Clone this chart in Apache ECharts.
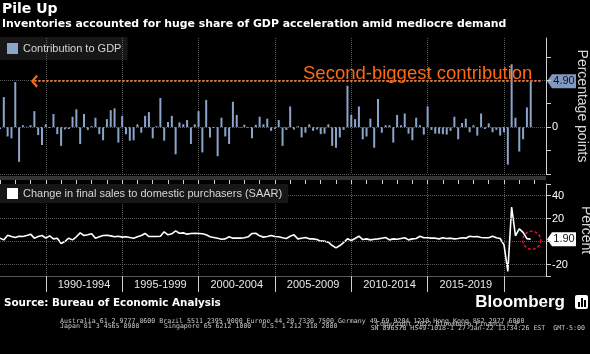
<!DOCTYPE html>
<html>
<head>
<meta charset="utf-8">
<script src="https://cdn.jsdelivr.net/npm/echarts@6/dist/echarts.min.js"></script>
<style>
  html, body { margin: 0; padding: 0; background: #000; }
  #chart { width: 590px; height: 354px; }
</style>
</head>
<body>
<div id="chart"></div>
<script>
// quarterly categories, 1987Q1 onwards (140 observations + a little room on the right)
const firstYear = 1987;
const slotCount = 144;
const quarters = [];
for (let i = 0; i < slotCount; i++) {
  quarters.push((firstYear + Math.floor(i / 4)) + 'Q' + (i % 4 + 1));
}
const periodLabels = ['1990-1994', '1995-1999', '2000-2004', '2005-2009', '2010-2014', '2015-2019'];

// inventories' contribution to GDP growth, percentage points
const inventoryContribution = [
  -0.2, 3.2, -1.0, -1.2, 4.8, -3.7, 0.2, 0.05, 0.2, 1.7,
  -0.85, -1.9, 0.3, -0.1, 1.4, -0.75, -2.0, -0.25, -0.2, 1.1,
  1.9, -1.8, 1.4, -0.3, 0.1, 1.0, -0.75, -1.4, 0.85, 1.8,
  2.0, -1.65, 1.2, -0.75, -1.45, -1.4, 0.3, -0.6, 1.2, 1.6,
  -1.2, 0.1, 3.1, -1.45, 0.55, 1.2, -2.9, 0.5, 0.3, 0.75,
  -1.8, 0.3, 1.7, -2.7, 2.9, -1.1, -0.1, -3.1, 1.0, -1.0,
  -1.8, 2.7, 1.3, -0.1, 0.25, -0.1, -1.2, 0.25, 1.1, 0.3,
  0.9, -0.4, -0.2, 0.75, -2.0, -0.3, 2.2, -0.25, 0.1, -1.1,
  -0.6, 0.3, -0.4, -0.25, -0.75, -0.7, 0.3, -2.0, -2.2, -1.1,
  -0.3, 4.4, 1.3, 0.85, 2.2, -1.3, -1.0, 0.9, -2.2, 3.0,
  -0.6, 0.2, 0.2, -1.65, 1.3, 0.2, 1.45, -0.7, -1.4, 1.0,
  0.2, -0.8, 2.2, -0.3, -0.7, -0.7, -0.75, -0.8, -0.4, 1.1,
  -1.3, 0.45, 0.9, -0.55, 0.2, -0.9, 1.45, -0.2, 0.4, -0.55,
  -0.3, -0.9, -0.55, -4.0, 6.7, 1.0, -2.6, -1.3, 2.1, 4.9
];

// change in final sales to domestic purchasers, SAAR, percent
const finalSales = [
  2.9, 1.4, 5.5, 4.3, 3.5, 4.6, 4.3, 5.2, 6.4, 2.9,
  4.3, 5.2, 2.9, 4.9, 2.3, 2.9, -1.7, 0, 2.9, 1.4,
  4.1, 7.5, 5.2, 5.8, 6.7, 2.9, 4.1, 5.2, 5.5, 4.9,
  4.1, 4.6, 3.8, 4.1, 3.5, 2.9, 4.1, 5.2, 7.0, 4.3,
  4.3, 4.3, 4.6, 8.4, 5.8, 6.7, 9.3, 7.2, 7.5, 6.4,
  7.0, 7.2, 7.0, 6.7, 5.8, 4.1, 3.5, 2.9, 2.0, 2.3,
  4.1, 2.9, 2.9, 2.9, 3.2, 4.1, 7.0, 7.2, 4.9, 3.8,
  4.3, 5.2, 4.3, 4.1, 3.2, 2.6, 4.6, 5.8, 2.3, 2.9,
  3.5, 2.3, 2.3, 1.7, 0.3, 0.3, -0.6, -3.5, -5.5, -3.5,
  -0.9, 2.3, 0.9, 2.6, 4.6, 1.7, 2.3, 1.4, 2.0, 2.3,
  2.9, 3.5, 1.4, 2.3, 2.0, 2.6, 3.2, 1.4, 2.3, 2.6,
  4.6, 3.2, 3.2, 2.9, 2.9, 2.3, 3.2, 2.6, 2.9, 2.3,
  2.6, 3.2, 2.9, 4.6, 4.1, 4.3, 3.5, 3.2, 3.2, 4.6,
  3.2, 2.6, -3.0, -26, 30, 5, 11, 8, 2.5, 1.9
];

const lastIdx = inventoryContribution.length - 1;
const dotted = { type: 'dotted', color: '#5c5c5c', width: 1 };
const font = 'Liberation Sans, Arial, sans-serif';
const heavy = 'DejaVu Sans, Verdana, sans-serif';
const square = 'path://M0,0H10V10H0Z';

// 5-year boundaries (1990Q1, 1995Q1, ...) and label positions in between
const isBoundary = (i) => i >= 12 && (i - 12) % 20 === 0;
const isLabelSlot = (i) => i >= 22 && i <= 122 && (i - 22) % 20 === 0;

const chart = echarts.init(document.getElementById('chart'));

const legendBase = {
  left: 0,
  backgroundColor: '#171717',
  itemWidth: 11, itemHeight: 11,
  textStyle: { color: '#d6d6d6', fontSize: 11 }
};

const option = {
  backgroundColor: '#000',
  animation: false,
  textStyle: { fontFamily: font },
  title: {
    left: 2, top: 2, padding: 0, itemGap: 3,
    text: 'Pile Up',
    textStyle: { color: '#fff', fontSize: 14, fontWeight: 'bold', fontFamily: heavy },
    subtext: 'Inventories accounted for huge share of GDP acceleration amid mediocre demand',
    subtextStyle: { color: '#fff', fontSize: 10.9, fontWeight: 'bold', fontFamily: heavy }
  },
  legend: [
    Object.assign({}, legendBase, {
      top: 37, padding: [6, 6, 6, 7], z: -1,
      data: [{
        name: 'Contribution to GDP', icon: square,
        itemStyle: { color: '#8ba4c9', borderWidth: 0 }
      }]
    }),
    Object.assign({}, legendBase, {
      top: 184, padding: [4, 6, 4, 7], z: 20,
      data: [{
        name: 'Change in final sales to domestic purchasers (SAAR)', icon: square,
        itemStyle: { color: '#ffffff', borderWidth: 0 }
      }]
    })
  ],
  grid: [
    { left: 0, right: 44, top: 38, height: 136, outerBoundsMode: 'none' },
    { left: 0, right: 44, top: 184, height: 92, outerBoundsMode: 'none' }
  ],
  xAxis: [
    {
      gridIndex: 0, type: 'category', data: quarters, boundaryGap: false,
      axisLine: { show: false, onZero: false }, axisTick: { show: false }, axisLabel: { show: false },
      splitLine: { show: true, interval: (i) => isBoundary(i), lineStyle: dotted }
    },
    {
      gridIndex: 1, type: 'category', data: quarters, boundaryGap: false,
      axisLine: { show: true, onZero: false, lineStyle: { color: '#555', width: 1 } },
      axisTick: { show: true, interval: (i) => isBoundary(i), length: 16, lineStyle: { color: '#cfcfcf' } },
      axisLabel: {
        show: true, interval: (i) => isLabelSlot(i), color: '#e8e8e8', fontSize: 11, margin: 3,
        formatter: (v, i) => periodLabels[(i - 22) / 20] || ''
      },
      splitLine: { show: true, interval: (i) => isBoundary(i), lineStyle: dotted }
    },
    {
      gridIndex: 1, type: 'category', data: quarters, boundaryGap: false,
      axisLine: { show: false, onZero: false },
      axisTick: { show: true, interval: (i) => i % 4 === 0, length: 4, lineStyle: { color: '#cfcfcf' } },
      axisLabel: { show: false }, splitLine: { show: false }
    }
  ],
  yAxis: [
    {
      gridIndex: 0, type: 'value', position: 'right', min: -5, max: 9.5,
      axisLine: { show: true, lineStyle: { color: '#d0d0d0' } },
      axisTick: { show: true, length: 5, customValues: [-5, -2.5, 0, 2.5, 5, 7.5], lineStyle: { color: '#d0d0d0' } },
      axisLabel: { show: true, customValues: [0], color: '#fff', fontSize: 11, margin: 6 },
      splitLine: { show: false },
      name: 'Percentage points', nameLocation: 'middle', nameRotate: -90, nameGap: 29,
      nameTextStyle: { color: '#d8d8d8', fontSize: 14 }
    },
    {
      gridIndex: 1, type: 'value', position: 'right', min: -30, max: 50,
      axisLine: { show: true, lineStyle: { color: '#d0d0d0' } },
      axisTick: { show: true, length: 5, customValues: [-30, -20, 0, 20, 40, 50], lineStyle: { color: '#d0d0d0' } },
      axisLabel: { show: true, customValues: [-20, 20, 40], color: '#fff', fontSize: 11, margin: 6 },
      splitLine: { show: false },
      name: 'Percent', nameLocation: 'middle', nameRotate: -90, nameGap: 29,
      nameTextStyle: { color: '#d8d8d8', fontSize: 14 }
    }
  ],
  series: [
    {
      name: 'Contribution to GDP',
      type: 'bar', xAxisIndex: 0, yAxisIndex: 0,
      data: inventoryContribution,
      barWidth: 2,
      itemStyle: { color: '#8ba4c9' },
      markLine: {
        silent: true, symbol: 'none', label: { show: false },
        lineStyle: dotted,
        data: [
          { yAxis: -5 }, { yAxis: 0 }, { yAxis: 5 },
          [
            {
              coord: [quarters[9], inventoryContribution[lastIdx]],
              symbol: 'path://M0,8 L10,0 L20,8 L17,10 L10,4 L3,10 Z', symbolSize: [13, 7],
              lineStyle: { type: 'dotted', color: '#ff6a13', width: 2 }
            },
            {
              coord: [quarters[142], inventoryContribution[lastIdx]], symbol: 'none',
              lineStyle: { type: 'dotted', color: '#ff6a13', width: 2 }
            }
          ]
        ]
      }
    },
    {
      name: 'Change in final sales to domestic purchasers (SAAR)',
      type: 'line', xAxisIndex: 1, yAxisIndex: 1,
      data: finalSales,
      symbol: 'none',
      lineStyle: { color: '#fff', width: 1.6 },
      itemStyle: { color: '#fff' },
      markLine: {
        silent: true, symbol: 'none', label: { show: false },
        lineStyle: dotted,
        data: [{ yAxis: 40 }, { yAxis: 20 }, { yAxis: 0 }, { yAxis: -20 }]
      }
    }
  ]
};
chart.setOption(option);

// annotations placed through the chart's own scales
const topTag = chart.convertToPixel({ gridIndex: 0 }, [quarters[lastIdx], inventoryContribution[lastIdx]]);
const botTag = chart.convertToPixel({ gridIndex: 1 }, [quarters[lastIdx], finalSales[lastIdx]]);
const tagX = 547;

function tag(y, fill, text) {
  return {
    type: 'group', z: 50,
    children: [
      {
        type: 'polygon',
        shape: { points: [[tagX, y], [tagX + 5, y - 7], [tagX + 29, y - 7], [tagX + 29, y + 7], [tagX + 5, y + 7]] },
        style: { fill: fill }
      },
      {
        type: 'text', x: tagX + 17, y: y,
        style: { text: text, fill: '#111', font: '11px ' + font, align: 'center', verticalAlign: 'middle' }
      }
    ]
  };
}

const finePrint = { fill: '#c8c8c8', font: '6.6px DejaVu Sans Mono, monospace', verticalAlign: 'middle' };

chart.setOption({
  graphic: [
    { type: 'rect', shape: { x: 0, y: 176, width: 546, height: 4 }, style: { fill: '#333' }, z: 5 },
    {
      type: 'text', x: 303, y: 74, z: 40,
      style: { text: 'Second-biggest contribution', fill: '#ff6a13', font: '18.5px ' + font, verticalAlign: 'middle' }
    },
    tag(topTag[1], '#7f99c0', inventoryContribution[lastIdx].toFixed(2)),
    tag(botTag[1], '#ffffff', finalSales[lastIdx].toFixed(2)),
    {
      type: 'circle', z: 45,
      shape: { cx: botTag[0] + 1, cy: botTag[1] + 1, r: 9 },
      style: { fill: 'none', stroke: '#e3102b', lineWidth: 1.5, lineDash: [3, 2] }
    },
    {
      type: 'text', x: 4, y: 303,
      style: { text: 'Source: Bureau of Economic Analysis', fill: '#fff', font: 'bold 10.4px ' + heavy, verticalAlign: 'middle' }
    },
    {
      type: 'text', x: 565, y: 302,
      style: { text: 'Bloomberg', fill: '#fff', font: 'bold 17px ' + font, align: 'right', verticalAlign: 'middle' }
    },
    {
      type: 'group', x: 575, y: 295,
      children: [
        { type: 'rect', shape: { x: 0, y: 0, width: 13, height: 14, r: 2 }, style: { fill: '#fff' } },
        { type: 'rect', shape: { x: 3, y: 7, width: 2, height: 5 }, style: { fill: '#000' } },
        { type: 'rect', shape: { x: 6, y: 3, width: 2, height: 9 }, style: { fill: '#000' } },
        { type: 'rect', shape: { x: 9, y: 5, width: 2, height: 7 }, style: { fill: '#000' } }
      ]
    },
    { type: 'text', x: 60, y: 321, style: Object.assign({ text: 'Australia 61 2 9777 8600 Brazil 5511 2395 9000 Europe 44 20 7330 7500 Germany 49 69 9204 1210 Hong Kong 852 2977 6000' }, finePrint) },
    { type: 'text', x: 60, y: 326, style: Object.assign({ text: 'Japan 81 3 4565 8900' }, finePrint) },
    { type: 'text', x: 164, y: 326, style: Object.assign({ text: 'Singapore 65 6212 1000' }, finePrint) },
    { type: 'text', x: 262, y: 326, style: Object.assign({ text: 'U.S. 1 212 318 2000' }, finePrint) },
    { type: 'text', x: 376, y: 324.5, style: Object.assign({ text: 'Copyright 2022 Bloomberg Finance L.P.' }, finePrint) },
    { type: 'text', x: 585, y: 328, style: Object.assign({ text: 'SN 896570 H549-1018-1 27-Jan-22 13:34:26 EST  GMT-5:00', align: 'right' }, finePrint) }
  ]
});
</script>
</body>
</html>
